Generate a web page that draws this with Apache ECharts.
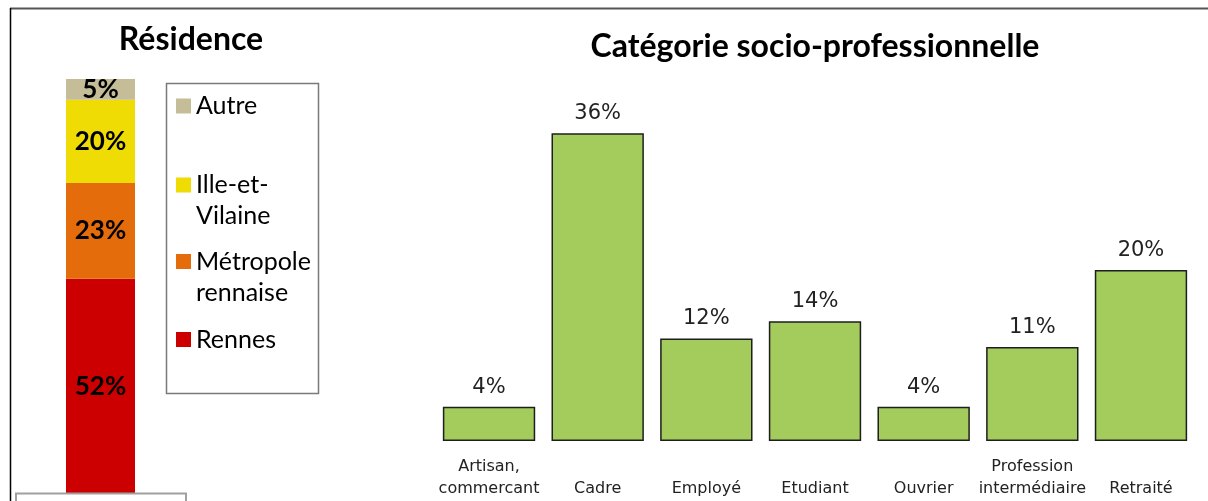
<!DOCTYPE html>
<html>
<head>
<meta charset="utf-8">
<script src="https://cdn.jsdelivr.net/npm/echarts@6/dist/echarts.min.js"></script>
<style>
html,body{margin:0;padding:0;background:#fff;}
#chart{width:1208px;height:501px;}
</style>
</head>
<body>
<div id="chart"></div>
<script>
// Résidence (stacked, bottom to top)
const residenceNames = ['Rennes', 'Métropole rennaise', 'Ille-et-Vilaine', 'Autre'];
const residenceValues = [52, 23, 20, 5];
const residenceColors = ['#cc0000', '#e46c0a', '#eedc04', '#c4bd97'];

// Catégorie socio-professionnelle
const cspCategories = ['Artisan,\ncommercant', 'Cadre', 'Employé', 'Etudiant', 'Ouvrier', 'Profession\nintermédiaire', 'Retraité'];
const cspValues = [4, 36, 12, 14, 4, 11, 20];

const chart = echarts.init(document.getElementById('chart'), null, {renderer: 'canvas'});

const titleFont = 'Lato, "Open Sans", sans-serif';
const excelFont = '"DejaVu Sans", Verdana, sans-serif';

const stackSeries = residenceNames.map((name, i) => ({
  name: name,
  type: 'bar',
  stack: 'res',
  xAxisIndex: 0,
  yAxisIndex: 0,
  barWidth: '100%',
  data: [residenceValues[i]],
  itemStyle: {color: residenceColors[i]},
  label: {
    show: true,
    position: 'inside',
    formatter: '{c}%',
    fontFamily: titleFont,
    fontWeight: 'bold',
    fontSize: 26,
    color: '#000'
  }
}));

const LH = 31;
const legendCenters = {'Autre': 106, 'Ille-et-Vilaine': 185, 'Métropole rennaise': 261.5, 'Rennes': 339.5};
const legendText = {'Autre': 'Autre', 'Ille-et-Vilaine': '\nIlle-et-\nVilaine', 'Métropole rennaise': '\nMétropole\nrennaise', 'Rennes': 'Rennes'};
const legends = ['Autre', 'Ille-et-Vilaine', 'Métropole rennaise', 'Rennes'].map(n => {
  const lines = legendText[n].split('\n').length;
  return {
    data: [n],
    left: 176,
    top: legendCenters[n] - lines * LH / 2,
    orient: 'vertical',
    padding: 0,
    icon: 'rect',
    itemWidth: 15,
    itemHeight: 15,
    selectedMode: false,
    formatter: () => legendText[n],
    textStyle: {
      fontFamily: titleFont,
      fontSize: 25,
      color: '#000',
      lineHeight: LH
    }
  };
});

const option = {
  animation: false,
  backgroundColor: '#fff',
  title: [
    {text: 'Résidence', left: 191, top: 24, textAlign: 'center', padding: 0,
     textStyle: {fontFamily: titleFont, fontWeight: 'bold', fontSize: 32, color: '#000'}},
    {text: 'Catégorie socio-professionnelle', left: 815, top: 31, textAlign: 'center', padding: 0,
     textStyle: {fontFamily: titleFont, fontWeight: 'bold', fontSize: 32, color: '#000'}}
  ],
  legend: legends,
  grid: [
    {left: 66, width: 69, top: 79, bottom: 6},
    {left: 434.7, right: 12.7, top: 99, bottom: 60}
  ],
  xAxis: [
    {type: 'category', gridIndex: 0, data: ['Résidence'], show: false},
    {type: 'category', gridIndex: 1, data: cspCategories,
     axisLine: {show: false}, axisTick: {show: false},
     axisLabel: {interval: 0, margin: 59, verticalAlign: 'bottom', lineHeight: 22,
                 fontFamily: excelFont, fontSize: 16, color: '#222'}}
  ],
  yAxis: [
    {type: 'value', gridIndex: 0, min: 0, max: 100, show: false},
    {type: 'value', gridIndex: 1, min: 0, max: 40, show: false}
  ],
  series: stackSeries.concat([{
    name: 'CSP',
    type: 'bar',
    xAxisIndex: 1,
    yAxisIndex: 1,
    barCategoryGap: '15%',
    data: cspValues,
    itemStyle: {color: '#a3cc5d', borderColor: '#1e1e1e', borderWidth: 1.5},
    label: {show: true, position: 'top', distance: 9, formatter: '{c}%',
            fontFamily: excelFont, fontSize: 21, color: '#222'}
  }]),
  graphic: [
    {type: 'rect', shape: {x: 166.5, y: 83.5, width: 152, height: 310},
     style: {fill: 'none', stroke: '#7a7a7a', lineWidth: 1.5}, z: 0, silent: true},
    {type: 'line', shape: {x1: 10, y1: 8.5, x2: 1208, y2: 8.5},
     style: {stroke: '#555', lineWidth: 2}, z: 100, silent: true},
    {type: 'line', shape: {x1: 10.5, y1: 8, x2: 10.5, y2: 501},
     style: {stroke: '#000', lineWidth: 1.5}, z: 100, silent: true},
    {type: 'rect', shape: {x: 16, y: 493.5, width: 170, height: 20},
     style: {fill: '#fff', stroke: '#a0a0a0', lineWidth: 2}, z: 100, silent: true}
  ]
};
chart.setOption(option);
</script>
</body>
</html>
